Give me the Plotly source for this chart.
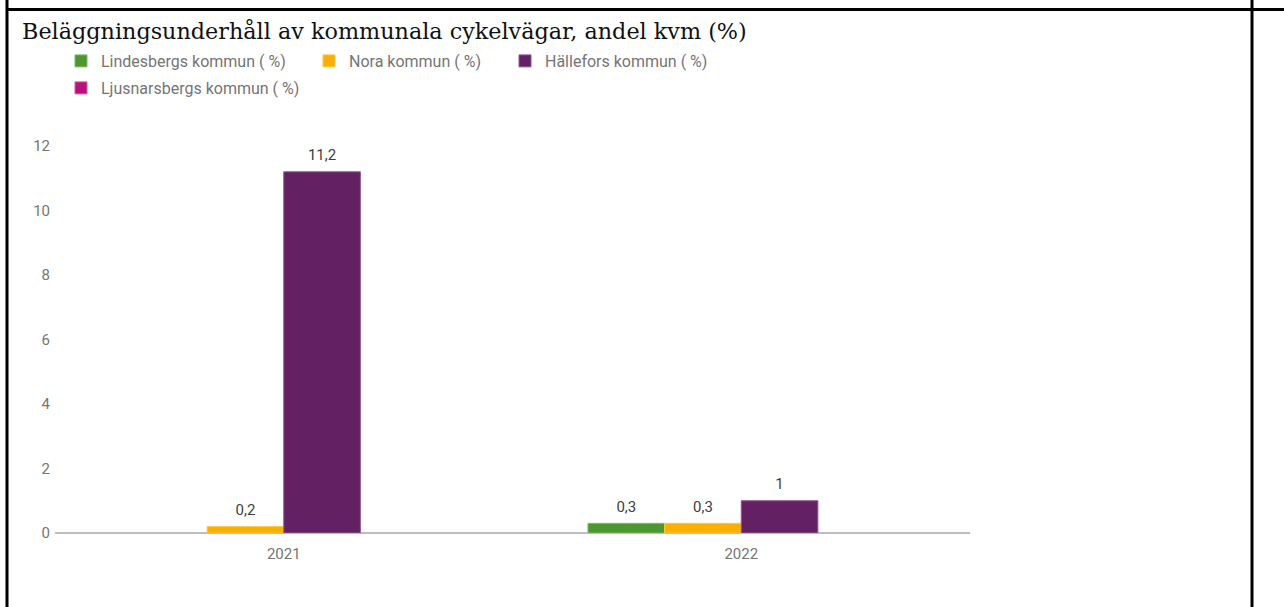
import plotly.graph_objects as go

years = ["2021", "2022"]
lindesberg = [None, 0.3]
nora = [0.2, 0.3]
hallefors = [11.2, 1]
ljusnarsberg = [None, None]

series_names = [
    "Lindesbergs kommun ( %)",
    "Nora kommun ( %)",
    "Hällefors kommun ( %)",
    "Ljusnarsbergs kommun ( %)",
]
series_values = [lindesberg, nora, hallefors, ljusnarsberg]
series_colors = ["#4c972f", "#f9b000", "#632063", "#b7127b"]
series_edges = ["#7fb86a", "#fbc94d", "#8f5a8f", "#d25ba7"]

W, H = 1284, 607
L, R, T, B = 55, 314, 146, 74   # plot area: x 55..970, y 146..533
pw, ph = W - L - R, H - T - B


def px(x):
    """Pixel x -> paper x."""
    return (x - L) / pw


def py(y):
    """Pixel y (from top) -> paper y."""
    return (H - B - y) / ph


legend_ids = ["legend", "legend2", "legend3", "legend4"]
legend_spots = [(61, 61), (309, 61), (505, 61), (61, 88)]   # one legend per entry, like the original layout

fig = go.Figure()
for name, vals, col, edge, lg in zip(series_names, series_values, series_colors, series_edges, legend_ids):
    fig.add_trace(go.Bar(
        x=years, y=vals, name=name,
        marker=dict(color=col, line=dict(color=edge, width=1)),
        text=vals,
        # small blank second line lifts the label a bit above the bar
        texttemplate="<span style='font-size:15px'>%{y}</span><br> ",
        textposition="outside",
        textfont=dict(family="Roboto", size=6, color="#3d3d3d"),
        cliponaxis=False,
        showlegend=True,
        legend=lg,
    ))

legend_style = dict(
    orientation="h", xanchor="left", yanchor="middle",
    font=dict(family="Roboto", size=16, color="#757575"),
    bgcolor="rgba(0,0,0,0)", itemclick=False, itemdoubleclick=False,
)
legends = {lg: dict(x=px(x), y=py(y), **legend_style) for lg, (x, y) in zip(legend_ids, legend_spots)}

fig.update_layout(
    width=W, height=H,
    margin=dict(l=L, r=R, t=T, b=B),
    paper_bgcolor="white", plot_bgcolor="white",
    showlegend=True,
    separators=", ",
    barmode="group", bargap=0.33, bargroupgap=0,
    title=dict(
        text="Beläggningsunderhåll av kommunala cykelvägar, andel kvm (%)",
        font=dict(family="DejaVu Serif", size=22.3, color="#111111"),
        xref="container", yref="container",
        x=22 / W, xanchor="left", y=1 - 31 / H, yanchor="middle",
    ),
    xaxis=dict(
        showgrid=False, showline=False, ticks="",
        tickfont=dict(family="Roboto", size=15, color="#757575"),
        ticklabelstandoff=10,
    ),
    yaxis=dict(
        range=[0, 12], dtick=2, showgrid=False, showline=False,
        zeroline=True, zerolinecolor="#bdbdbd", zerolinewidth=1.5,
        tickfont=dict(family="Roboto", size=15, color="#757575"),
        ticklabelstandoff=4,
    ),
    **legends,
)

# document table frame around the chart
frame = dict(type="line", xref="paper", yref="paper", line=dict(color="black", width=3))
fig.add_shape(x0=px(7), x1=px(W), y0=py(9.5), y1=py(9.5), **frame)
fig.add_shape(x0=px(7), x1=px(7), y0=py(0), y1=py(H), **frame)
fig.add_shape(x0=px(1252), x1=px(1252), y0=py(0), y1=py(H), **frame)

fig.write_html("out.html", config={"displayModeBar": False},
               post_script="document.body.style.margin='0';")
